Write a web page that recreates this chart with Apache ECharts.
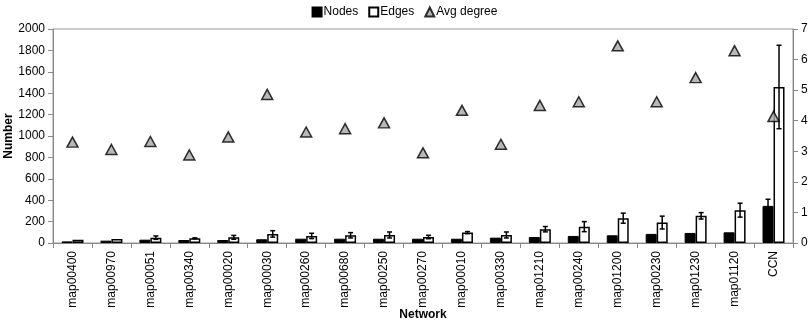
<!DOCTYPE html>
<html><head><meta charset="utf-8">
<script src="https://cdn.jsdelivr.net/npm/echarts@6/dist/echarts.min.js"></script>
<style>html,body{margin:0;padding:0;background:#fff}#c{width:809px;height:324px}</style>
</head><body><div id="c"></div>
<script>
const categories = ['map00400','map00970','map00051','map00340','map00020','map00030','map00260','map00680','map00250','map00270','map00010','map00330','map01210','map00240','map01200','map00230','map01230','map01120','CCN'];
const nodes = [15,22,31,28,28,35,40,40,40,40,40,50,56,66,72,85,94,100,347];
const nodesErr = [0,0,0,0,0,0,0,0,0,0,0,0,0,0,0,0,0,0,62];
const edges = [30,38,50,44,53,85,66,72,75,56,97,75,129,153,232,191,254,307,1458];
const edgesErr = [0,0,16,4,18,30,25,25,28,16,10,28,25,47,47,60,30,65,390];
const avgDegree = [3.30,3.06,3.32,2.88,3.47,4.86,3.63,3.74,3.93,2.95,4.34,3.23,4.50,4.62,6.45,4.62,5.41,6.29,4.14];
const leftTicks = {min:0, max:2000, interval:200};
const rightTicks = {min:0, max:7, interval:1};

const BW = 11;
const font = 'Liberation Sans, Arial, sans-serif';
function errSeries(vals, errs, offset){
  return {
    type:'custom', yAxisIndex:0, silent:true, z:5,
    data: vals.map((v,i)=>[i, v, errs[i]]),
    renderItem: function(params, api){
      const i = api.value(0), v = api.value(1), e = api.value(2);
      if (!e) return;
      const top = api.coord([i, v+e]);
      const bot = api.coord([i, v-e]);
      const x = top[0] + offset;
      const st = {stroke:'#000', lineWidth:1.5};
      return {type:'group', children:[
        {type:'line', shape:{x1:x,y1:top[1],x2:x,y2:bot[1]}, style:st},
        {type:'line', shape:{x1:x-2.5,y1:top[1],x2:x+2.5,y2:top[1]}, style:st},
        {type:'line', shape:{x1:x-2.5,y1:bot[1],x2:x+2.5,y2:bot[1]}, style:st}
      ]};
    }
  };
}
const chart = echarts.init(document.getElementById('c'), null, {renderer:'canvas'});
chart.setOption({
  animation:false,
  textStyle:{fontFamily:font},
  legend:{
    top:1, left:'center', itemGap:10, itemWidth:9, itemHeight:9,
    textStyle:{fontFamily:font, fontSize:12, color:'#000', padding:[0,0,0,-3]},
    data:[
      {name:'Nodes', icon:'rect'},
      {name:'Edges', icon:'rect'},
      {name:'Avg degree', icon:'triangle'}
    ]
  },
  grid:{left:53, right:16, top:29, bottom:81, show:true, borderColor:'#999', borderWidth:1, outerBoundsMode:'none', containLabel:false},
  xAxis:{
    type:'category', data:categories,
    name:'Network', nameLocation:'middle', nameGap:66, nameMoveOverlap:false,
    nameTextStyle:{fontFamily:font, fontSize:12, fontWeight:'bold', color:'#000'},
    axisLine:{lineStyle:{color:'#888'}},
    axisTick:{show:true, alignWithLabel:false, lineStyle:{color:'#888'}},
    axisLabel:{rotate:90, interval:0, fontFamily:font, fontSize:12, color:'#000', margin:8}
  },
  yAxis:[
    {type:'value', min:leftTicks.min, max:leftTicks.max, interval:leftTicks.interval,
     name:'Number', nameLocation:'middle', nameGap:38, nameRotate:90, nameMoveOverlap:false,
     nameTextStyle:{fontFamily:font, fontSize:12, fontWeight:'bold', color:'#000'},
     axisLine:{show:true, lineStyle:{color:'#888'}}, axisTick:{show:true, lineStyle:{color:'#888'}},
     splitLine:{show:false},
     axisLabel:{fontFamily:font, fontSize:12, color:'#000', margin:8, formatter: v => String(v)}},
    {type:'value', min:rightTicks.min, max:rightTicks.max, interval:rightTicks.interval, position:'right',
     axisLine:{show:true, lineStyle:{color:'#888'}}, axisTick:{show:true, lineStyle:{color:'#888'}},
     splitLine:{show:false},
     axisLabel:{fontFamily:font, fontSize:12, color:'#000', margin:8, formatter: v => String(v)}}
  ],
  series:[
    {name:'Nodes', type:'bar', data:nodes, barWidth:BW, barGap:'0%',
     itemStyle:{color:'#000', borderColor:'#000', borderWidth:1}},
    {name:'Edges', type:'bar', data:edges, barWidth:BW, barGap:'0%',
     itemStyle:{color:'#fff', borderColor:'#000', borderWidth:1.5}},
    {name:'Avg degree', type:'scatter', yAxisIndex:1, data:avgDegree, symbol:'triangle', symbolSize:[11,10],
     itemStyle:{color:'#a6a6a6', borderColor:'#000', borderWidth:1.5}, z:6},
    errSeries(nodes, nodesErr, -BW/2),
    errSeries(edges, edgesErr, BW/2)
  ]
});
</script></body></html>
